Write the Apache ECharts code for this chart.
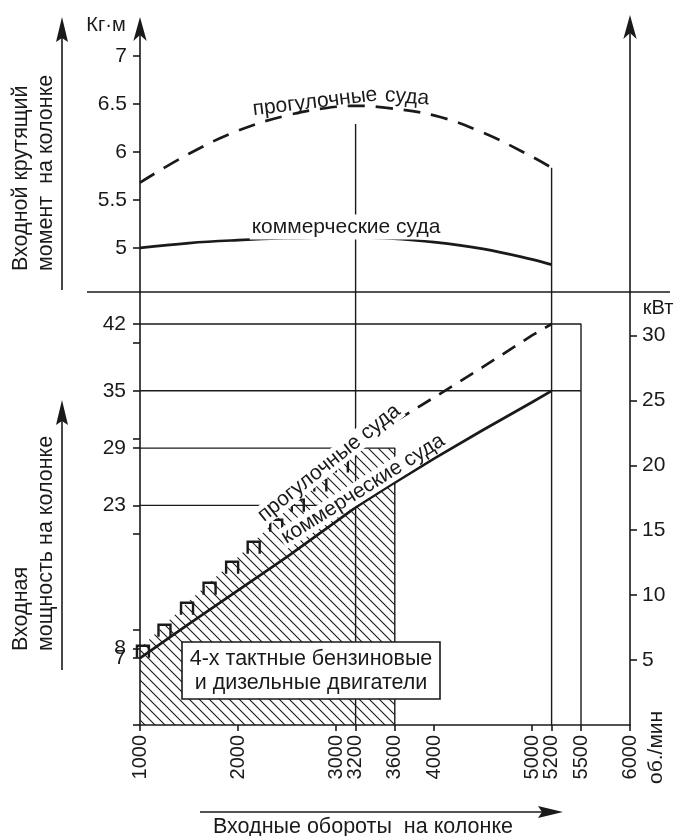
<!DOCTYPE html>
<html><head><meta charset="utf-8">
<script src="https://cdn.jsdelivr.net/npm/echarts@6/dist/echarts.min.js"></script>
<style>html,body{margin:0;padding:0;background:#fff}#c{width:677px;height:836px}</style>
</head><body><div id="c"></div>
<script>
// ---- data ----
const xTicks = [1000, 2000, 3000, 3200, 3600, 4000, 5000, 5200, 5500, 6000];
const torqueTicks = [5, 5.5, 6, 6.5, 7];
const powerHpLabels = [8, 23, 29, 35, 42];
const powerHpLowLabels = [7];
const powerHpTicks = [0, 7, 8, 10, 20, 23, 29, 30, 35, 40, 42];
const powerKwTicks = [5, 10, 15, 20, 25, 30];

const rpmTorque = [1000, 1500, 2000, 2500, 3000, 3200, 3500, 4000, 4500, 5000, 5200];
const torquePleasure = [5.68, 5.98, 6.22, 6.38, 6.47, 6.48, 6.46, 6.38, 6.20, 5.95, 5.835];
const torqueCommercial = [5.00, 5.05, 5.08, 5.10, 5.11, 5.11, 5.10, 5.06, 4.99, 4.88, 4.825];

const rpmPower = [1000, 1500, 2000, 2500, 3000, 3200, 3600, 4000, 4500, 5000, 5200];
const powerCommercial = [7, 10.6, 14.1, 17.6, 21.3, 22.8, 25.4, 27.9, 30.9, 33.8, 35];
const powerPleasure = [8, 13, 17.6, 22.6, 27.2, 28.9, 31.8, 34.3, 37.5, 40.8, 42];

const hatchRpm = [1000, 1500, 2000, 2500, 3000, 3200, 3600];
const hatchTop = [8, 13, 17.6, 22.6, 27.2, 28.9, 29];

const railRpm = [1030, 1250, 1480, 1710, 1940, 2160, 2390, 2610, 2840, 3060];
const railHp = [8.3, 10.5, 12.8, 14.9, 17.1, 19.2, 21.5, 23.6, 25.7, 27.7];

const torqueMin = 4.54, torqueMax = 7.28;
const hpMax = 45.35, kwMax = 33.35;

const guide42 = [[1000, 42], [5500, 42], [5500, 0]];
const guide35 = [[1000, 35], [5500, 35]];
const guide29 = [[1000, 29], [3600, 29], [3600, 0]];
const guide23 = [[1000, 23], [3200, 23]];
const guide3200P = [[3200, hpMax], [3200, 0]];
const guide5200P = [[5200, hpMax], [5200, 0]];
const guide3200T = [[3200, 6.29], [3200, torqueMin]];
const guide5200T = [[5200, 5.835], [5200, torqueMin]];

// ---- helpers ----
const zip = (xs, ys) => xs.map((x, i) => [x, ys[i]]);
const INK = '#1a1a1a';
const FONT = '"Liberation Sans", Arial, sans-serif';
function hatchCanvas() {
  const s = 10, c = document.createElement('canvas');
  c.width = s; c.height = s;
  const g = c.getContext('2d');
  g.strokeStyle = INK; g.lineWidth = 1.1; g.beginPath();
  g.moveTo(0, 0); g.lineTo(s, s);
  g.moveTo(-3, s - 3); g.lineTo(3, s + 3);
  g.moveTo(s - 3, -3); g.lineTo(s + 3, 3);
  g.stroke();
  return c;
}
function guide(data, xi, yi) {
  return { type: 'line', xAxisIndex: xi, yAxisIndex: yi, data: data, symbol: 'none', silent: true,
    lineStyle: { color: INK, width: 1.4 }, z: 3 };
}
const fmt = v => String(v);
const axisLineStyle = { color: INK, width: 1.6 };
const tickFont = { color: INK, fontSize: 21, fontFamily: FONT };

const chart = echarts.init(document.getElementById('c'));
chart.setOption({
  animation: false,
  backgroundColor: '#fff',
  grid: [
    { left: 140, width: 490, top: 29, height: 263 },
    { left: 140, width: 490, top: 292, height: 433 }
  ],
  xAxis: [
    { gridIndex: 0, type: 'value', min: 1000, max: 6000, show: false },
    { gridIndex: 1, type: 'value', min: 1000, max: 6000,
      axisLine: { onZero: false, lineStyle: axisLineStyle },
      axisTick: { customValues: xTicks, length: 6, lineStyle: axisLineStyle },
      axisLabel: { customValues: xTicks, rotate: 90, margin: 10, formatter: fmt, hideOverlap: false,
        color: INK, fontSize: 20, fontFamily: FONT },
      splitLine: { show: false } }
  ],
  yAxis: [
    { gridIndex: 0, type: 'value', min: torqueMin, max: torqueMax, position: 'left',
      axisLine: { show: true, onZero: false, symbol: ['none', 'arrow'], symbolSize: [10, 24], symbolOffset: [0, 12], lineStyle: axisLineStyle },
      axisTick: { show: true, customValues: torqueTicks, length: 7, lineStyle: axisLineStyle },
      axisLabel: Object.assign({ customValues: torqueTicks, margin: 13, formatter: fmt, hideOverlap: false }, tickFont),
      splitLine: { show: false } },
    { gridIndex: 0, type: 'value', min: torqueMin, max: torqueMax, position: 'right',
      axisLine: { show: true, onZero: false, symbol: ['none', 'arrow'], symbolSize: [10, 24], symbolOffset: [0, 14], lineStyle: axisLineStyle },
      axisTick: { show: false }, axisLabel: { show: false }, splitLine: { show: false } },
    { gridIndex: 1, type: 'value', min: 0, max: hpMax, position: 'left',
      axisLine: { show: true, onZero: false, lineStyle: axisLineStyle },
      axisTick: { show: true, customValues: powerHpTicks, length: 7, lineStyle: axisLineStyle },
      axisLabel: Object.assign({ customValues: powerHpLabels, margin: 14, formatter: fmt, hideOverlap: false }, tickFont),
      splitLine: { show: false } },
    { gridIndex: 1, type: 'value', min: 0, max: kwMax, position: 'right',
      axisLine: { show: true, onZero: false, lineStyle: axisLineStyle },
      axisTick: { show: true, customValues: powerKwTicks, length: 7, lineStyle: axisLineStyle },
      axisLabel: Object.assign({ customValues: powerKwTicks, margin: 12, formatter: fmt, hideOverlap: false }, tickFont),
      splitLine: { show: false } },
    { gridIndex: 1, type: 'value', min: 0, max: hpMax, position: 'left',
      axisLine: { show: false }, axisTick: { show: false },
      axisLabel: Object.assign({ customValues: powerHpLowLabels, margin: 14, formatter: fmt, hideOverlap: false,
        padding: [12, 0, 0, 0] }, tickFont),
      splitLine: { show: false } }
  ],
  series: [
    // torque
    { type: 'line', xAxisIndex: 0, yAxisIndex: 0, data: zip(rpmTorque, torquePleasure), smooth: 0.4, symbol: 'none',
      lineStyle: { color: INK, width: 2.7, type: [17, 11] }, z: 4 },
    { type: 'line', xAxisIndex: 0, yAxisIndex: 0, data: zip(rpmTorque, torqueCommercial), smooth: 0.4, symbol: 'none',
      lineStyle: { color: INK, width: 2.7 }, z: 4 },
    guide(guide3200T, 0, 0), guide(guide5200T, 0, 0),
    // hatched zone
    { type: 'line', xAxisIndex: 1, yAxisIndex: 2, data: zip(hatchRpm, hatchTop), symbol: 'none',
      lineStyle: { width: 0, opacity: 0 }, areaStyle: { color: { image: hatchCanvas(), repeat: 'repeat' }, opacity: 1 }, z: 1 },
    // power
    { type: 'line', xAxisIndex: 1, yAxisIndex: 2, data: zip(rpmPower, powerCommercial), symbol: 'none',
      lineStyle: { color: INK, width: 2.7 }, z: 4 },
    { type: 'line', xAxisIndex: 1, yAxisIndex: 2, data: zip(rpmPower, powerPleasure).slice(5), symbol: 'none',
      lineStyle: { color: INK, width: 2.7, type: [15, 10] }, z: 4 },
    { type: 'custom', xAxisIndex: 1, yAxisIndex: 2, coordinateSystem: 'cartesian2d', data: zip(railRpm, railHp), z: 4,
      renderItem: function (params, api) {
        const p = api.coord([api.value(0), api.value(1)]);
        return { type: 'polyline', shape: { points: [[p[0] - 6, p[1] + 12], [p[0] - 6, p[1]], [p[0] + 6, p[1]], [p[0] + 6, p[1] + 12]] },
          style: { stroke: INK, lineWidth: 2.4, fill: null } };
      } },
    guide(guide42, 1, 2), guide(guide35, 1, 2), guide(guide29, 1, 2), guide(guide23, 1, 2),
    guide(guide3200P, 1, 2), guide(guide5200P, 1, 2)
  ],
  graphic: [
    { type: 'line', z: 50, shape: { x1: 87, y1: 292, x2: 670, y2: 292 }, style: { stroke: INK, lineWidth: 1.6 } },
    { type: 'line', z: 50, shape: { x1: 62, y1: 290, x2: 62, y2: 36 }, style: { stroke: INK, lineWidth: 1.6 } },
    { type: 'polygon', z: 50, shape: { points: [[62, 17], [56, 42], [62, 38], [68, 42]] }, style: { fill: INK } },
    { type: 'line', z: 50, shape: { x1: 62, y1: 670, x2: 62, y2: 418 }, style: { stroke: INK, lineWidth: 1.6 } },
    { type: 'polygon', z: 50, shape: { points: [[62, 400], [56, 425], [62, 421], [68, 425]] }, style: { fill: INK } },
    { type: 'line', z: 50, shape: { x1: 200, y1: 812, x2: 545, y2: 812 }, style: { stroke: INK, lineWidth: 1.6 } },
    { type: 'polygon', z: 50, shape: { points: [[563, 812], [538, 806], [542, 812], [538, 818]] }, style: { fill: INK } },
    { type: 'text', z: 50, x: 34, y: 271, rotation: Math.PI / 2,
      style: { text: 'Входной крутящий\nмомент  на колонке', font: '21.5px ' + FONT, fill: INK, align: 'left', verticalAlign: 'middle', lineHeight: 25 } },
    { type: 'text', z: 50, x: 34, y: 651, rotation: Math.PI / 2,
      style: { text: 'Входная\nмощность на колонке', font: '21.5px ' + FONT, fill: INK, align: 'left', verticalAlign: 'middle', lineHeight: 25 } },
    { type: 'text', z: 50, x: 106, y: 25, style: { text: 'Кг·м', font: '20px ' + FONT, fill: INK, align: 'center', verticalAlign: 'middle' } },
    { type: 'text', z: 50, x: 658, y: 308, style: { text: 'кВт', font: '20px ' + FONT, fill: INK, align: 'center', verticalAlign: 'middle' } },
    { type: 'text', z: 50, x: 656, y: 784, rotation: Math.PI / 2,
      style: { text: 'об./мин', font: '21px ' + FONT, fill: INK, align: 'left', verticalAlign: 'middle' } },
    { type: 'text', z: 50, x: 363, y: 827, style: { text: 'Входные обороты  на колонке', font: '21.5px ' + FONT, fill: INK, align: 'center', verticalAlign: 'middle' } },
    { type: 'text', z: 50, x: 315, y: 102, rotation: 0.12,
      style: { text: 'прогулочные', font: '21px ' + FONT, fill: INK, align: 'center', verticalAlign: 'middle' } },
    { type: 'text', z: 50, x: 407, y: 97, rotation: -0.08,
      style: { text: 'суда', font: '21px ' + FONT, fill: INK, align: 'center', verticalAlign: 'middle' } },
    { type: 'text', z: 50, x: 346, y: 227,
      style: { text: 'коммерческие суда', font: '21px ' + FONT, fill: INK, align: 'center', verticalAlign: 'middle', backgroundColor: '#fff', padding: [2, 2] } },
    { type: 'text', z: 50, x: 329, y: 463, rotation: 0.672,
      style: { text: 'прогулочные суда', font: '21px ' + FONT, fill: INK, align: 'center', verticalAlign: 'middle', backgroundColor: '#fff', padding: [0, 2] } },
    { type: 'text', z: 50, x: 363, y: 489, rotation: 0.56,
      style: { text: 'коммерческие суда', font: '21px ' + FONT, fill: INK, align: 'center', verticalAlign: 'middle', backgroundColor: '#fff', padding: [0, 2] } },
    { type: 'rect', z: 60, shape: { x: 182, y: 642, width: 258, height: 57 }, style: { fill: '#fff', stroke: INK, lineWidth: 1.6 } },
    { type: 'text', z: 61, x: 311, y: 671,
      style: { text: '4-х тактные бензиновые\nи дизельные двигатели', font: '21.5px ' + FONT, fill: INK, align: 'center', verticalAlign: 'middle', lineHeight: 24 } }
  ]
});
</script></body></html>
